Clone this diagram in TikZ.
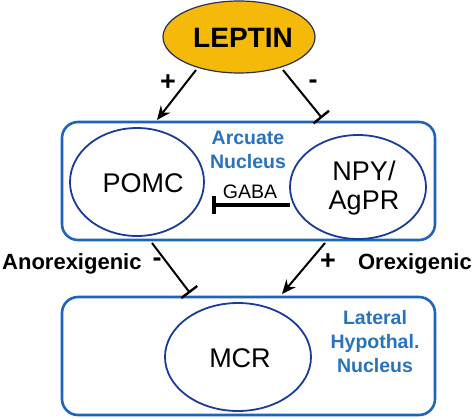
\documentclass[tikz,border=0pt]{standalone}
\usepackage{fontspec}
\setmainfont{Liberation Sans}
\usetikzlibrary{arrows.meta,shapes.geometric}
\definecolor{boxblue}{RGB}{30,100,185}
\definecolor{ellblue}{RGB}{25,60,150}
\definecolor{txtblue}{RGB}{40,115,185}
\definecolor{gold}{RGB}{245,185,10}
\definecolor{leptline}{RGB}{45,45,85}
\tikzset{
  region/.style={draw=boxblue,line width=2.6pt,rounded corners=16pt},
  cell/.style={draw=ellblue,line width=1.8pt,ellipse,inner sep=0pt},
  celltext/.style={font=\fontsize{27}{30}\selectfont,align=center,inner sep=0pt},
  bluelab/.style={font=\bfseries\fontsize{19.5}{24}\selectfont,text=txtblue,align=center,inner sep=0pt},
  sign/.style={font=\bfseries\fontsize{27}{28}\selectfont,inner sep=0pt},
  sidelab/.style={font=\bfseries\fontsize{22}{24}\selectfont,inner sep=0pt},
  act/.style={line width=2pt,-{Stealth[length=14pt,width=12pt]}},
  inh/.style={line width=2pt,-{Bar[width=20pt,line width=2.4pt]}},
}
\begin{document}
\begin{tikzpicture}[x=1pt,y=-1pt]
\useasboundingbox (0,0) rectangle (474,418);
% regions
\draw[region] (62,122) rectangle (435,240);
\node[inner sep=0pt,minimum width=373pt,minimum height=118pt] (arc) at (248.5,181) {};
\draw[region] (62,297) rectangle (435,415);
\node[inner sep=0pt,minimum width=373pt,minimum height=118pt] (lh) at (248.5,356) {};
% leptin
\node[ellipse,draw=leptline,line width=1.2pt,fill=gold,minimum width=152pt,minimum height=72pt,inner sep=0pt] (leptin) at (239,37) {};
\node[font=\bfseries\fontsize{28}{30}\selectfont,inner sep=0pt] (leptintxt) at (243,38) {LEPTIN};
% cells
\node[cell,minimum width=134pt,minimum height=108pt] (pomc) at (137,182) {};
\node[celltext] (pomctxt) at (143,183) {POMC};
\node[cell,minimum width=136pt,minimum height=104pt] (npy) at (358,187) {};
\node[celltext] (npytxt) at (364,188) {NPY/\\[-1pt]AgPR};
\node[cell,minimum width=146pt,minimum height=108pt] (mcr) at (238,357) {};
\node[celltext] (mcrtxt) at (240,358) {MCR};
% labels
\node[bluelab] (arclab) at (248,150) {Arcuate\\Nucleus};
\node[bluelab] (lhlab) at (375,342) {Lateral\\Hypothal.\\Nucleus};
\node[font=\fontsize{19.5}{22}\selectfont,inner sep=0pt] (gaba) at (250,192) {GABA};
\node[sidelab,anchor=west] (anor) at (2,264) {Anorexigenic};
\node[sidelab,anchor=east] (orex) at (472,264) {Orexigenic};
\node[sign] (p1) at (168,83) {+};
\node[sign] (m1) at (313,84) {-};
\node[sign] (m2) at (157,262) {-};
\node[sign] (p2) at (328,262) {+};
% connector end points
\coordinate (l1s) at (196,70);
\coordinate (l1e) at (157,120);
\coordinate (l2s) at (283,70);
\coordinate (l2e) at (322,118);
\coordinate (gs) at (290,205);
\coordinate (ge) at (212,205);
\coordinate (a1s) at (152,243);
\coordinate (a1e) at (190,293);
\coordinate (a2s) at (325,243);
\coordinate (a2e) at (282,294);
% connectors
\draw[act] (l1s) -- (l1e);
\draw[inh] (l2s) -- (l2e);
\draw[line width=3.6pt,-{Bar[width=18pt,line width=3.6pt]}] (gs) -- (ge);
\draw[inh] (a1s) -- (a1e);
\draw[act] (a2s) -- (a2e);
\end{tikzpicture}
\end{document}
